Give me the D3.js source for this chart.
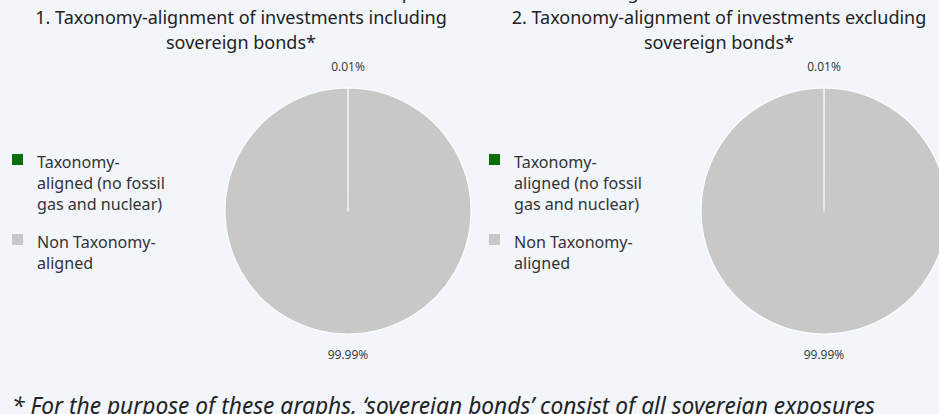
<!DOCTYPE html>
<html><head><meta charset="utf-8">
<script src="https://cdn.jsdelivr.net/npm/d3@7"></script>
<style>
html,body{margin:0;padding:0;background:#f2f5fa;overflow:hidden}
svg{display:block}
</style></head><body>
<svg id="c" width="939" height="414"></svg>
<script>
const categories = ["Taxonomy-aligned (no fossil gas and nuclear)", "Non Taxonomy-aligned"];
const legendLines = [["Taxonomy-", "aligned (no fossil", "gas and nuclear)"], ["Non Taxonomy-", "aligned"]];
const seriesIncluding = [0.01, 99.99];
const seriesExcluding = [0.01, 99.99];
const titles = [["1. Taxonomy-alignment of investments including", "sovereign bonds*"],
                ["2. Taxonomy-alignment of investments excluding", "sovereign bonds*"]];
const colors = ["#0b6e0b", "#c8c8c8"];
const footnote = "* For the purpose of these graphs, \u2018sovereign bonds\u2019 consist of all sovereign exposures";
const topLine = ["in relation to the investments of the financial ", "product other than sovereign bonds."];

const svg = d3.select("#c");
const titleFont = "'Noto Sans', 'Open Sans', sans-serif";
const bodyFont = "'Open Sans', 'Noto Sans', sans-serif";

// fit a font size so that a text spans a given width
function fitSize(text, width, style) {
  const t = svg.append("text").attr("font-family", titleFont).attr("font-size", 20)
    .attr("font-style", style || "normal").text(text);
  const w = t.node().getComputedTextLength();
  t.remove();
  return 20 * width / w;
}
const titleSize = fitSize(titles[0][0], 412);
const legendSize = fitSize(legendLines[0][1], 128);
const footSize = fitSize(footnote, 863, "italic");

// clipped top line (only descenders visible)
const meas = svg.append("text").attr("font-family", titleFont).attr("font-size", titleSize).text(topLine[0]);
const preW = meas.node().getComputedTextLength();
meas.remove();
svg.append("text").attr("x", 397 - preW).attr("y", -1)
  .attr("font-family", titleFont).attr("font-size", titleSize).attr("fill", "#222")
  .text(topLine[0] + topLine[1]);

const panels = [
  {data: seriesIncluding, titleX: 241, legendX: 12, cx: 348, title: titles[0]},
  {data: seriesExcluding, titleX: 719, legendX: 489, cx: 824, title: titles[1]}
];
const cy = 211, r = 123;
const pie = d3.pie().sort(null).value(d => d);
const arc = d3.arc().innerRadius(0).outerRadius(r);
const fmt = v => d3.format(".2f")(v) + "%";

panels.forEach(p => {
  const g = svg.append("g");
  p.title.forEach((t, i) => {
    g.append("text").attr("x", p.titleX).attr("y", 24 + i * 25)
      .attr("text-anchor", "middle").attr("font-family", titleFont)
      .attr("font-size", titleSize).attr("fill", "#222").text(t);
  });
  const pg = g.append("g").attr("transform", `translate(${p.cx},${cy})`);
  const arcs = pie(p.data);
  pg.selectAll("path").data(arcs).join("path")
    .attr("d", arc).attr("fill", (d, i) => colors[i])
    .attr("stroke", "#ffffff").attr("stroke-width", 1.2).attr("stroke-linejoin", "round");
  const labelR = r + 12;
  arcs.forEach((d, i) => {
    const mid = (d.startAngle + d.endAngle) / 2;
    const x = Math.sin(mid) * labelR;
    const y = -Math.cos(mid) * labelR;
    pg.append("text").attr("x", x).attr("y", y + (y < 0 ? -5 : 13))
      .attr("text-anchor", "middle").attr("font-family", bodyFont)
      .attr("font-size", 12).attr("fill", "#333").text(fmt(d.data));
  });
  const lg = g.append("g").attr("transform", `translate(${p.legendX},0)`);
  legendLines.forEach((lines, i) => {
    lg.append("rect").attr("x", 0).attr("y", i === 0 ? 154 : 234).attr("width", 11).attr("height", 11)
      .attr("fill", colors[i]);
    lines.forEach((ln, j) => {
      lg.append("text").attr("x", 25).attr("y", (i === 0 ? 168 : 248) + j * 21)
        .attr("font-family", titleFont).attr("font-size", legendSize).attr("fill", "#333").text(ln);
    });
  });
});

svg.append("text").attr("x", 12).attr("y", 414)
  .attr("font-family", titleFont).attr("font-style", "italic")
  .attr("font-size", footSize).attr("fill", "#222").text(footnote);
</script>
</body></html>
